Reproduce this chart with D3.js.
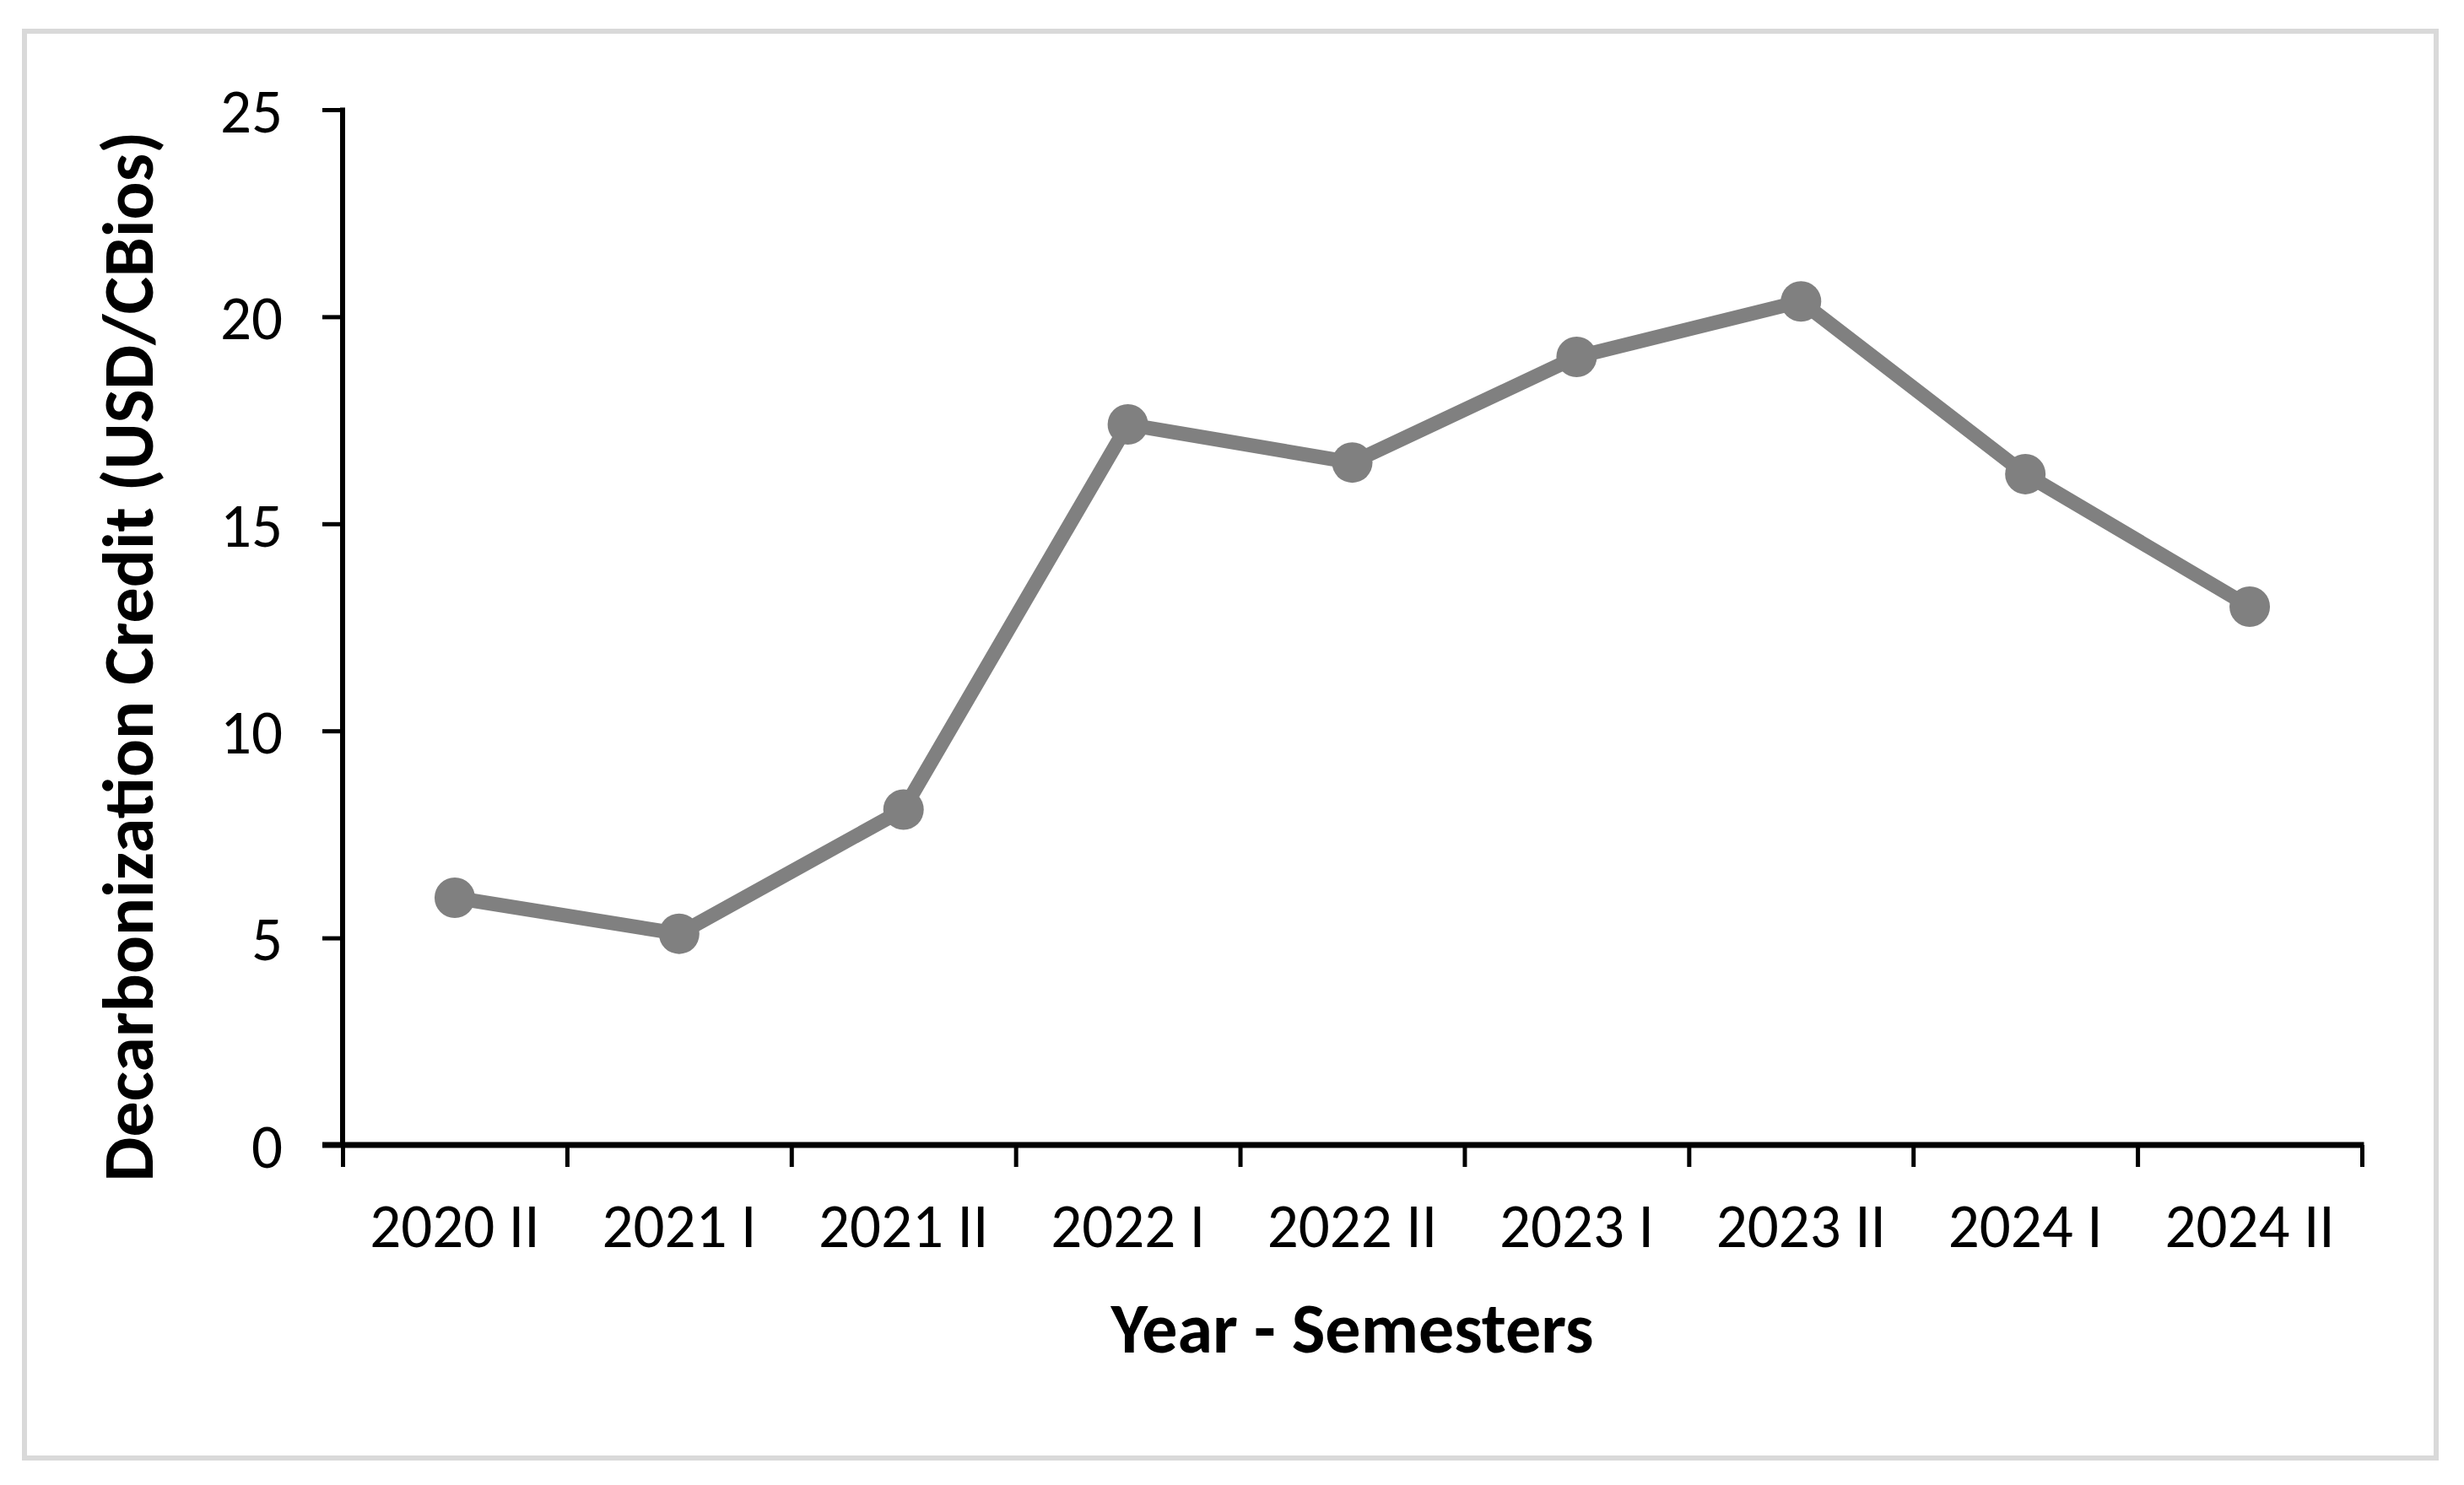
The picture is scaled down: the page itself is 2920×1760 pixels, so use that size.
<!DOCTYPE html>
<html>
<head>
<meta charset="utf-8">
<script src="https://cdn.jsdelivr.net/npm/d3@7"></script>
<style>
  html, body { margin: 0; padding: 0; background: #fff; }
  svg { display: block; }
  text { font-family: Carlito, Calibri, Lato, "Open Sans", sans-serif; fill: #000; }
</style>
</head>
<body>
<svg id="chart" width="2920" height="1760"></svg>
<script>
const categories = ["2020 II", "2021 I", "2021 II", "2022 I", "2022 II", "2023 I", "2023 II", "2024 I", "2024 II"];
const values = [5.97, 5.1, 8.1, 17.4, 16.48, 19.03, 20.37, 16.2, 13.0];
const yTicks = [0, 5, 10, 15, 20, 25];
const xTitle = "Year - Semesters";
const yTitle = "Decarbonization Credit (USD/CBios)";

const W = 2920, H = 1760;
const plot = { left: 406, right: 2799, top: 130, bottom: 1357 };
const tickFont = 73, titleFont = 84;
const svg = d3.select("#chart");

svg.append("rect").attr("width", W).attr("height", H).attr("fill", "#fff");
svg.append("rect")
  .attr("x", 29).attr("y", 37).attr("width", 2858).attr("height", 1691)
  .attr("fill", "#fff").attr("stroke", "#d9d9d9").attr("stroke-width", 6);

const x = d3.scaleBand().domain(categories).range([plot.left, plot.right]).padding(0);
const xEdge = d3.scaleLinear().domain([0, categories.length]).range([plot.left, plot.right]);
const y = d3.scaleLinear().domain([0, 25]).range([plot.bottom, plot.top]);

// Y axis
const yAxis = svg.append("g").attr("transform", `translate(${plot.left},0)`)
  .call(d3.axisLeft(y).tickValues(yTicks).tickSize(24).tickPadding(47).tickFormat(d3.format("d")));
yAxis.select(".domain").remove();
yAxis.selectAll(".tick line").attr("stroke", "#000").attr("stroke-width", 5);
yAxis.selectAll(".tick text").attr("font-size", tickFont).attr("dy", "0.36em");
svg.append("line")
  .attr("x1", plot.left).attr("x2", plot.left)
  .attr("y1", y(25) - 2.5).attr("y2", y(0))
  .attr("stroke", "#000").attr("stroke-width", 6);

// X axis edge ticks
const xTickAxis = svg.append("g").attr("transform", `translate(0,${plot.bottom})`)
  .call(d3.axisBottom(xEdge).tickValues(d3.range(categories.length + 1)).tickSize(26).tickFormat(""));
xTickAxis.select(".domain").remove();
xTickAxis.selectAll(".tick line").attr("stroke", "#000").attr("stroke-width", 5);

// X labels
const xLabAxis = svg.append("g").attr("transform", `translate(0,${plot.bottom})`)
  .call(d3.axisBottom(x).tickSize(0).tickPadding(121 - 0.71 * tickFont));
xLabAxis.select(".domain").remove();
xLabAxis.selectAll(".tick text").attr("font-size", tickFont).attr("dy", "0.71em");

svg.append("line")
  .attr("x1", plot.left - 24).attr("x2", plot.right + 2.5)
  .attr("y1", y(0)).attr("y2", y(0))
  .attr("stroke", "#000").attr("stroke-width", 7);

// Line + markers
const line = d3.line().x((d, i) => x(categories[i]) + x.bandwidth() / 2).y(d => y(d));
svg.append("path").datum(values)
  .attr("d", line).attr("fill", "none")
  .attr("stroke", "#808080").attr("stroke-width", 17).attr("stroke-linejoin", "round");
svg.selectAll("circle.pt").data(values).join("circle")
  .attr("class", "pt")
  .attr("cx", (d, i) => x(categories[i]) + x.bandwidth() / 2)
  .attr("cy", d => y(d))
  .attr("r", 24).attr("fill", "#808080");

// Titles
svg.append("text").text(xTitle)
  .attr("x", (plot.left + plot.right) / 2).attr("y", 1603)
  .attr("text-anchor", "middle").attr("font-weight", "bold").attr("font-size", titleFont);
svg.append("text").text(yTitle)
  .attr("transform", `translate(181,778) rotate(-90)`)
  .attr("text-anchor", "middle").attr("font-weight", "bold").attr("font-size", titleFont);
</script>
</body>
</html>
